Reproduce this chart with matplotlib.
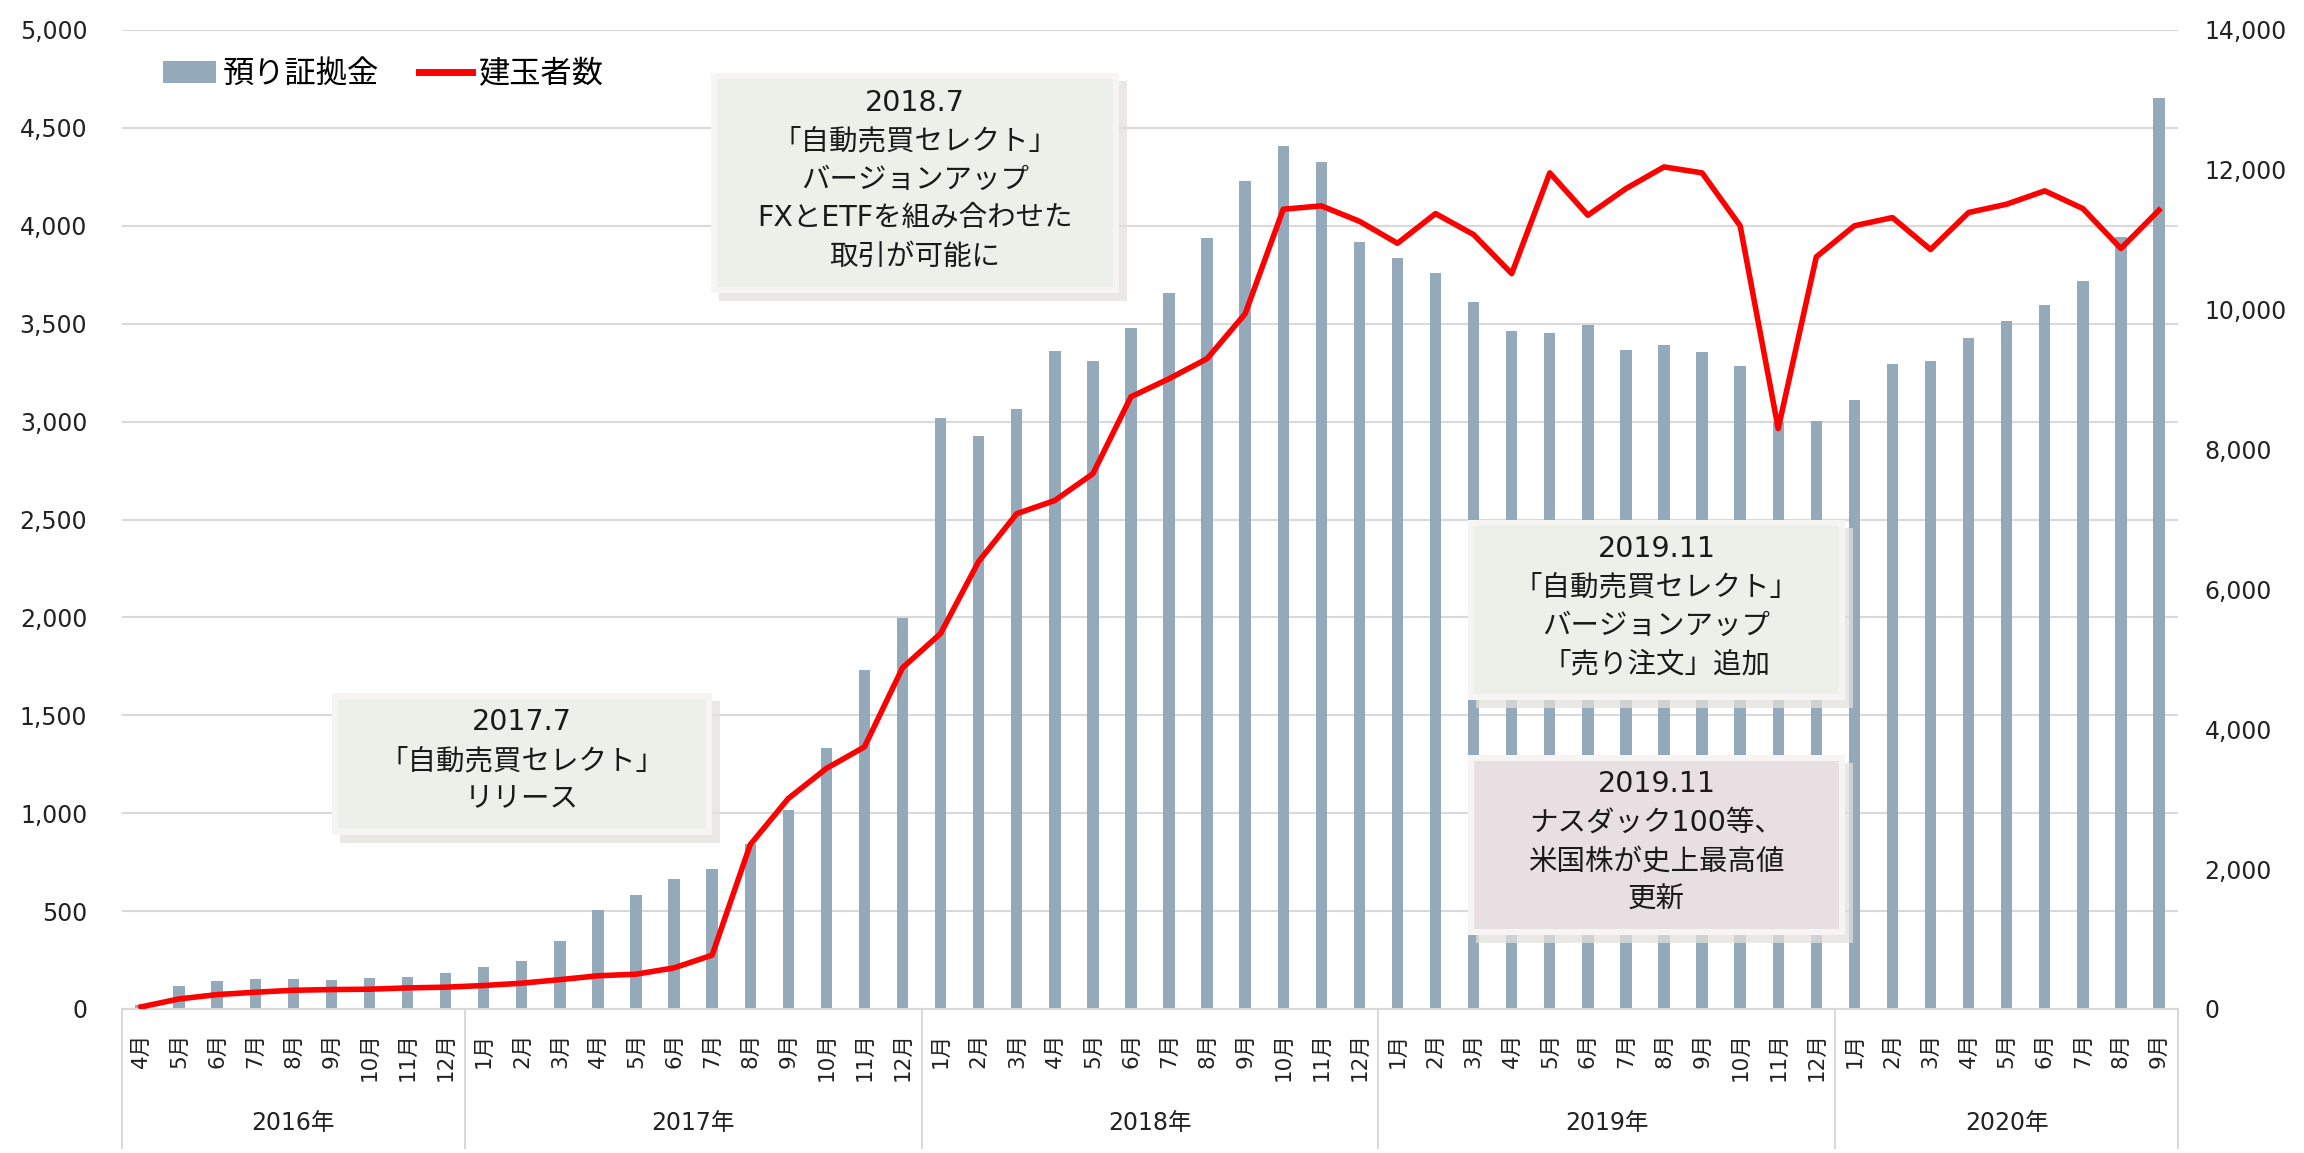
import numpy as np
import matplotlib.pyplot as plt
from matplotlib.patches import Rectangle
from matplotlib.lines import Line2D
from matplotlib.ticker import FuncFormatter
from matplotlib.transforms import blended_transform_factory

# fonts: latin from DejaVu, japanese falls back to Noto CJK
plt.rcParams['font.family'] = ['DejaVu Sans', 'Noto Sans CJK JP']

# data
years = ['2016年', '2017年', '2018年', '2019年', '2020年']
year_months = [list(range(4, 13)), list(range(1, 13)), list(range(1, 13)),
               list(range(1, 13)), list(range(1, 10))]
month_labels = [f'{m}月' for ms in year_months for m in ms]

# 預り証拠金 (left axis)
deposit = [20, 116, 142, 154, 154, 146, 158, 164, 183,
           214, 247, 345, 508, 583, 666, 714, 845, 1015, 1334, 1733, 1998,
           3016, 2925, 3062, 3363, 3309, 3476, 3656, 3936, 4228, 4409, 4324, 3919,
           3834, 3759, 3609, 3461, 3452, 3491, 3367, 3393, 3357, 3285, 2998, 3005,
           3108, 3295, 3311, 3427, 3512, 3597, 3720, 3945, 4651]

# 建玉者数 (right axis)
accounts = [30, 144, 206, 240, 268, 278, 283, 302, 312,
            336, 369, 420, 475, 498, 588, 770, 2350, 3010, 3440, 3748, 4880,
            5370, 6400, 7083, 7272, 7655, 8755, 9013, 9300, 9943, 11437, 11485, 11265,
            10950, 11375, 11074, 10516, 11957, 11351, 11732, 12042, 11957, 11200, 8300, 10755,
            11200, 11318, 10861, 11390, 11509, 11700, 11447, 10875, 11423]

notes = [
    ((332, 693, 712, 835), '#EDF0E8', ['2017.7', '「自動売買セレクト」', 'リリース']),
    ((711, 73, 1119, 293), '#EDF0E8', ['2018.7', '「自動売買セレクト」', 'バージョンアップ',
                                       'FXとETFを組み合わせた', '取引が可能に']),
    ((1468, 520, 1845, 700), '#EDF0E8', ['2019.11', '「自動売買セレクト」', 'バージョンアップ',
                                         '「売り注文」追加']),
    ((1468, 755, 1845, 935), '#E8DFE3', ['2019.11', 'ナスダック100等、', '米国株が史上最高値', '更新']),
]

W, H = 2304, 1153
fig = plt.figure(figsize=(W / 100, H / 100), dpi=100)
ax = fig.add_axes([122 / W, 1 - 1009 / H, 2056 / W, 979 / H])
ax2 = ax.twinx()

x = np.arange(len(month_labels))
bars = ax.bar(x, deposit, width=0.3, color='#94A9BA', zorder=2)
ax2.plot(x, accounts, color='#FF0000', lw=4, solid_joinstyle='round', zorder=3)

grid_c = '#D9D9D9'
txt_c = '#222222'
fmt = FuncFormatter(lambda v, p: f'{int(v):,}')

ax.set_xlim(-0.5, len(x) - 0.5)
ax.set_ylim(0, 5000)
ax.set_yticks(range(0, 5001, 500))
ax.yaxis.set_major_formatter(fmt)
ax.yaxis.grid(True, color=grid_c, lw=1.5)
ax.set_axisbelow(True)
ax2.set_ylim(0, 14000)
ax2.set_yticks(range(0, 14001, 2000))
ax2.yaxis.set_major_formatter(fmt)

for a in (ax, ax2):
    for s in a.spines.values():
        s.set_visible(False)
ax.spines['bottom'].set_visible(True)
ax.spines['bottom'].set_color(grid_c)
ax.spines['bottom'].set_linewidth(1.5)

ax.tick_params(axis='y', length=0, pad=25, labelsize=17, labelcolor=txt_c)
ax2.tick_params(axis='y', length=0, pad=19, labelsize=17, labelcolor=txt_c)
ax.set_xticks(x, month_labels, rotation=90, fontsize=15.5, color=txt_c)
ax.tick_params(axis='x', length=0, pad=17)

# year groups under the months
trans = blended_transform_factory(ax.transData, ax.transAxes)
start = 0
bounds = [-0.5]
for yr, ms in zip(years, year_months):
    end = start + len(ms)
    ax.text((start + end - 1) / 2, -(1123 - 1009) / 979, yr, transform=trans,
            ha='center', va='center', fontsize=17, color=txt_c)
    bounds.append(end - 0.5)
    start = end
for b in bounds:
    ax.plot([b, b], [0, -(1148 - 1009) / 979], transform=trans, clip_on=False,
            color=grid_c, lw=1.5)

# legend
handles = [bars, Line2D([0], [0], color='#FF0000', lw=5)]
fig.legend(handles, ['預り証拠金', '建玉者数'], loc='center left',
           bbox_to_anchor=(163 / W, 1 - 74 / H), frameon=False, ncol=2, fontsize=22.5,
           handlelength=1.7, handleheight=0.72, handletextpad=0.2, columnspacing=1.3,
           borderpad=0, borderaxespad=0)


# annotation boxes, positions given in figure pixels from top-left
def rect(x0, y0, x1, y1, **kw):
    r = Rectangle((x0 / W, 1 - y1 / H), (x1 - x0) / W, (y1 - y0) / H,
                  transform=fig.transFigure, lw=0, **kw)
    fig.add_artist(r)


for (x0, y0, x1, y1), fill, lines in notes:
    rect(x0 + 8, y0 + 8, x1 + 8, y1 + 8, color='#E2E1DC', alpha=0.75, zorder=10)
    rect(x0, y0, x1, y1, color='#F6F5F3', zorder=11)
    rect(x0 + 6, y0 + 6, x1 - 6, y1 - 6, color=fill, zorder=12)
    cx = (x0 + x1) / 2
    cy = (y0 + y1) / 2 - 3
    n = len(lines)
    for i, s in enumerate(lines):
        ly = cy + (i - (n - 1) / 2) * 38.5
        fig.text(cx / W, 1 - ly / H, s, ha='center', va='center', fontsize=20.5,
                 color='#1A1A1A', zorder=13)

fig.savefig('out.png', dpi=100)
